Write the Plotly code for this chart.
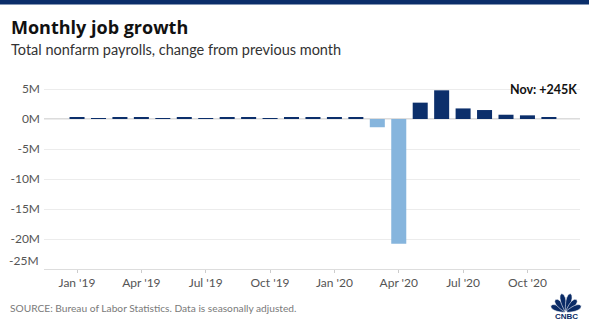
import math
import plotly.graph_objects as go

# Monthly change in total nonfarm payrolls, thousands of jobs
months = ["Jan 2019", "Feb 2019", "Mar 2019", "Apr 2019", "May 2019", "Jun 2019",
          "Jul 2019", "Aug 2019", "Sep 2019", "Oct 2019", "Nov 2019", "Dec 2019",
          "Jan 2020", "Feb 2020", "Mar 2020", "Apr 2020", "May 2020", "Jun 2020",
          "Jul 2020", "Aug 2020", "Sep 2020", "Oct 2020", "Nov 2020"]
change_k = [312, 56, 189, 216, 62, 178, 166, 219, 180, 152, 256, 184,
            214, 251, -1373, -20787, 2725, 4781, 1761, 1493, 711, 610, 245]

x_tick_labels = ["Jan '19", "Apr '19", "Jul '19", "Oct '19",
                 "Jan '20", "Apr '20", "Jul '20", "Oct '20"]
x_tick_pos = [0, 3, 6, 9, 12, 15, 18, 21]
y_tick_vals = [5, 0, -5, -10, -15, -20]
y_tick_text = ["5M", "0M", "-5M", "-10M", "-15M", "-20M"]

NAVY = "#0c2f6b"
LIGHT = "#86b5dd"
FONT = "Lato"

W, H = 589, 324
ML, MR, MT, MB = 44, 9, 80, 55
PW, PH = W - ML - MR, H - MT - MB


def px(x):
    return (x - ML) / PW


def py(y):
    return (H - MB - y) / PH


values_m = [v / 1000 for v in change_k]
colors = [NAVY if v >= 0 else LIGHT for v in change_k]
idx = list(range(len(months)))

fig = go.Figure(go.Bar(
    x=idx, y=values_m, marker=dict(color=colors, line=dict(width=0)),
    width=0.7, hoverinfo="skip",
))

shapes = [
    # navy band across the top
    dict(type="rect", xref="paper", yref="paper", x0=px(0), x1=px(W),
         y0=py(4.5), y1=py(-1), fillcolor="#0b2e6a", line=dict(width=0), layer="above"),
    # zero line
    dict(type="line", xref="paper", yref="y", x0=0, x1=1, y0=0, y1=0,
         line=dict(color="#b8b8b8", width=1), layer="below"),
]

# peacock logo: fan of six feathers above the wordmark
cx, cy = 566.0, 312.0
n_f = 6
for i in range(n_f):
    ang = math.radians(158 - i * (136 / (n_f - 1)))
    L = 18.0 if i in (2, 3) else 15.5
    wd = 4.0
    ux, uy = math.cos(ang), -math.sin(ang)
    nx, ny = -uy, ux
    side = []
    for k in range(13):
        t = k / 12
        r = 1.0 + t * L
        half = wd * math.sin(math.pi * (0.15 + 0.85 * t)) ** 0.5 * (0.35 + 0.65 * t)
        side.append((r, half))
    pts = [(cx + ux * r + nx * h, cy + uy * r + ny * h) for r, h in side]
    pts += [(cx + ux * r - nx * h, cy + uy * r - ny * h) for r, h in reversed(side)]
    path = "M " + " L ".join(f"{px(a):.5f},{py(b):.5f}" for a, b in pts) + " Z"
    shapes.append(dict(type="path", xref="paper", yref="paper", path=path,
                       fillcolor="#0a2b66", line=dict(color="white", width=0.6),
                       layer="above"))

annotations = [
    dict(text="<b>Monthly job growth</b>", xref="paper", yref="paper",
         x=px(9), y=py(27), xanchor="left", yanchor="middle", showarrow=False,
         font=dict(family="Open Sans", size=18, color="#111111")),
    dict(text="Total nonfarm payrolls, change from previous month", xref="paper", yref="paper",
         x=px(9), y=py(49), xanchor="left", yanchor="middle", showarrow=False,
         font=dict(family=FONT, size=14.5, color="#333333")),
    dict(text="SOURCE: Bureau of Labor Statistics. Data is seasonally adjusted.",
         xref="paper", yref="paper", x=px(8), y=py(307.5), xanchor="left", yanchor="middle",
         showarrow=False, font=dict(family=FONT, size=10.2, color="#7a7a7a")),
    dict(text="<b>Nov: +%dK</b>" % change_k[-1], xref="paper", yref="paper",
         x=px(579), y=py(89), xanchor="right", yanchor="middle", showarrow=False,
         font=dict(family=FONT, size=12.5, color="#111111")),
    dict(text="-25M", xref="paper", yref="y", x=px(41), y=-25, yshift=9,
         xanchor="right", yanchor="middle", showarrow=False,
         font=dict(family=FONT, size=12, color="#555555")),
    dict(text="<b>CNBC</b>", xref="paper", yref="paper", x=px(566), y=py(316),
         xanchor="center", yanchor="middle", showarrow=False,
         font=dict(family="Liberation Sans", size=8, color="#0a2b66")),
]

fig.update_layout(
    width=W, height=H, margin=dict(l=ML, r=MR, t=MT, b=MB, pad=0),
    paper_bgcolor="white", plot_bgcolor="white", showlegend=False,
    bargap=0.3, shapes=shapes, annotations=annotations,
    font=dict(family=FONT, size=12, color="#555555"),
)
fig.update_xaxes(
    range=[-1.54, len(months) - 1 + 1.45], tickvals=x_tick_pos, ticktext=x_tick_labels,
    showgrid=False, zeroline=False, showline=True, linecolor="#dddddd", linewidth=1,
    ticks="outside", ticklen=3, tickcolor="#cccccc", tickfont=dict(size=12, color="#555555"),
    fixedrange=True,
)
fig.update_yaxes(
    range=[-25, 6.5], tickvals=y_tick_vals, ticktext=y_tick_text,
    showgrid=True, gridcolor="#ececec", gridwidth=1, zeroline=False,
    showline=False, ticks="", ticklabelstandoff=3,
    tickfont=dict(size=12, color="#555555"), fixedrange=True,
)

fig.write_html("out.html", config={"displayModeBar": False})
